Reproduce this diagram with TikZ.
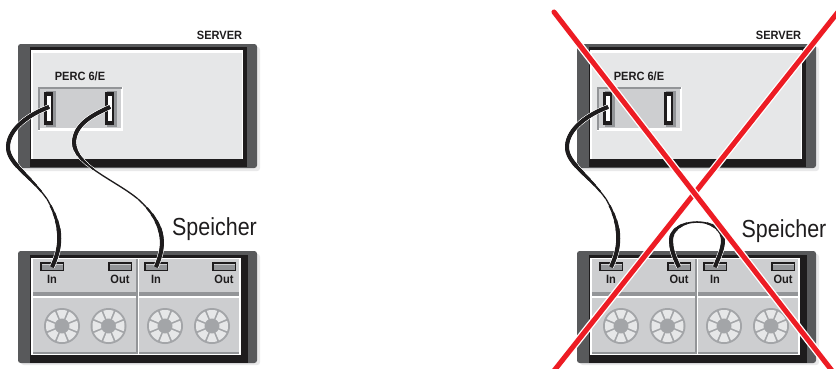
\documentclass[tikz,border=0pt]{standalone}
\usepackage{fontspec}
\setmainfont{Liberation Sans}
\definecolor{bandgray}{HTML}{58595B}
\definecolor{facegray}{HTML}{E6E7E8}
\definecolor{panelgray}{HTML}{CDCED0}
\definecolor{edgegray}{HTML}{939598}
\definecolor{shadowgray}{HTML}{E9E9EA}
\definecolor{nearblack}{HTML}{1E1C1D}
\definecolor{xred}{HTML}{ED1C24}
\tikzset{
  x=0.75pt,y=-0.75pt,
  label8/.style={font=\bfseries\fontsize{9}{10}\selectfont,inner sep=0pt,text=nearblack,xscale=.92,transform shape},
  speicherlabel/.style={font=\fontsize{18.5}{20}\selectfont,inner sep=0pt,xscale=.87,transform shape,text=nearblack},
  slot/.style={draw=none,inner sep=0pt,minimum width=1pt,minimum height=1pt},
  redline/.style={line width=3.8pt,draw=xred},
  redcase/.style={line width=5.8pt,draw=white},
}
% one half of a tapered cable: thick at its start, thin at its end
\newcommand{\halfcable}[2]{%
  \foreach \w/\l in #2 {\draw[white,line width=\w+0.9pt,dash pattern=on \l off 2000pt] #1;}%
  \foreach \w/\l in #2 {\draw[nearblack,line width=\w,dash pattern=on \l off 2000pt] #1;}%
}
\newcommand{\fan}[2]{%
  \fill[edgegray!85] (#1,#2) circle[radius=18];
  \foreach \a in {0,45,...,315}{
    \fill[facegray] plot[domain=\a-16:\a+16,samples=7] ({#1+7.5*cos(\x)},{#2+7.5*sin(\x)})
      -- plot[domain=\a+19:\a-19,samples=9] ({#1+16*cos(\x)},{#2+16*sin(\x)}) -- cycle;
  }
  \fill[edgegray!85] (#1,#2) circle[radius=6];
}
\newcommand{\slotport}[3]{% name, x, y
  \fill[edgegray] (#2-3,#3-16) rectangle (#2+7,#3+20);
  \fill[nearblack] (#2-5,#3-15) rectangle (#2+4,#3+18);
  \fill[white] (#2-2.5,#3-11) rectangle (#2+1.5,#3+14);
  \node[slot] (#1) at (#2,#3) {};
}
\newcommand{\ioport}[3]{% name, x, y(top)
  \fill[nearblack] (#2-12,#3) rectangle (#2+12,#3+9);
  \fill[edgegray] (#2-10.5,#3+2.5) rectangle (#2+11,#3+8);
  \fill[panelgray] (#2-10.5,#3+1.5) rectangle (#2+11,#3+3);
  \node[slot] (#1) at (#2,#3+5) {};
}
\newcommand{\rackunit}[1]{%
  % server
  \fill[shadowgray,rounded corners=2] (21,47) rectangle (260,171);
  \fill[bandgray,rounded corners=2] (18,44) rectangle (257,168);
  \fill[nearblack] (30,47) rectangle (247,167);
  \fill[white] (31,50) rectangle (243,159);
  \fill[facegray] (33,53) rectangle (242,159);
  \node[label8,anchor=center] (#1server) at (219.5,35) {SERVER};
  \node[label8,anchor=center] (#1perc) at (80,76) {PERC 6/E};
  \fill[white] (38,87) rectangle (123,131);
  \fill[edgegray] (38,87) rectangle (122,89);
  \fill[edgegray] (38,87) rectangle (40,130);
  \fill[panelgray] (40,89) rectangle (121,128);
  \slotport{#1sa}{49}{107}
  \slotport{#1sb}{110}{107}
  % storage
  \fill[shadowgray,rounded corners=2] (21,254) rectangle (260,365);
  \fill[bandgray,rounded corners=2] (18,251) rectangle (257,363);
  \fill[nearblack] (30,255) rectangle (248,363);
  \fill[white] (31,258) rectangle (241,355);
  \foreach \xa/\xb in {33/135.5,139/239}{
    \fill[panelgray] (\xa,259) rectangle (\xb,292);
    \fill[edgegray] (\xa,292) rectangle (\xb,295.5);
    \fill[panelgray] (\xa,297.5) rectangle (\xb,352);
    \fill[edgegray] (\xa,352) rectangle (\xb,354);
  }
  \fill[edgegray] (136,259) rectangle (137.5,354);
  \ioport{#1ina}{52}{262}
  \ioport{#1outa}{120}{262}
  \ioport{#1inb}{156}{262}
  \ioport{#1outb}{224}{262}
  \node[label8] (#1la) at (52,279) {In};
  \node[label8] (#1lb) at (120,279) {Out};
  \node[label8] (#1lc) at (156,279) {In};
  \node[label8] (#1ld) at (224,279) {Out};
  \fan{62}{326}\fan{108.5}{326}\fan{165}{326}\fan{212}{326}
}
\begin{document}
\begin{tikzpicture}
\useasboundingbox (0,0) rectangle (836,368);
\begin{scope}
  \rackunit{L}
\end{scope}
\begin{scope}[xshift=419.25pt]
  \rackunit{R}
\end{scope}
\node[speicherlabel] (speicherL) at (214.5,229) {Speicher};
\node[speicherlabel] (speicherR) at (784,231) {Speicher};
% widths and lengths of the tapered parts
\def\longA{3pt/62pt,2.6pt/70pt,2.2pt/76pt,1.8pt/82pt,1.4pt/88pt,1pt/2000pt}
\def\longB{3pt/46pt,2.6pt/50pt,2.2pt/55pt,1.7pt/60pt,1.3pt/66pt,1pt/2000pt}
\def\shortA{3pt/30pt,2.6pt/36pt,2.1pt/42pt,1.6pt/48pt,1pt/2000pt}
\def\loopA{3pt/26pt,2.6pt/31pt,2.1pt/36pt,1.6pt/40pt,1.2pt/2000pt}
\coordinate (m1) at (47,199);
\coordinate (m2) at (138,199);
\coordinate (m3) at (606,199);
\coordinate (m4) at (697,222);
% left picture cables
\halfcable{(Lsa.center) .. controls (30,114) and (9,128) .. (8,146) .. controls (7,163) and (30,175) .. (m1)}{\longA}
\halfcable{(Lina.center) .. controls (60,250) and (65,230) .. (m1)}{\shortA}
\halfcable{(Lsb.center) .. controls (90,116) and (75,125) .. (74,142) .. controls (74,165) and (115,180) .. (m2)}{\longB}
\halfcable{(Linb.center) .. controls (163,250) and (170,228) .. (m2)}{\shortA}
% right picture cables
\halfcable{(Rsa.center) .. controls (589,114) and (568,128) .. (567,146) .. controls (566,163) and (589,175) .. (m3)}{\longA}
\halfcable{(Rina.center) .. controls (619,250) and (624,230) .. (m3)}{\shortA}
\halfcable{(Routa.center) .. controls (673,255) and (671,248) .. (671,240) .. controls (671,230) and (682,222) .. (m4)}{\loopA}
\halfcable{(Rinb.center) .. controls (718,258) and (723,250) .. (723,240) .. controls (723,230) and (712,222) .. (m4)}{\loopA}
% red cross
\coordinate (xa) at (554,12);
\coordinate (xb) at (833,372);
\coordinate (xc) at (838,12);
\coordinate (xd) at (553,372);
\draw[redcase] (xc) -- (xd);
\draw[redline] (xc) -- (xd);
\draw[redcase] (xa) -- (xb);
\draw[redline,line cap=round] (xa) -- (xb);
\end{tikzpicture}
\end{document}
